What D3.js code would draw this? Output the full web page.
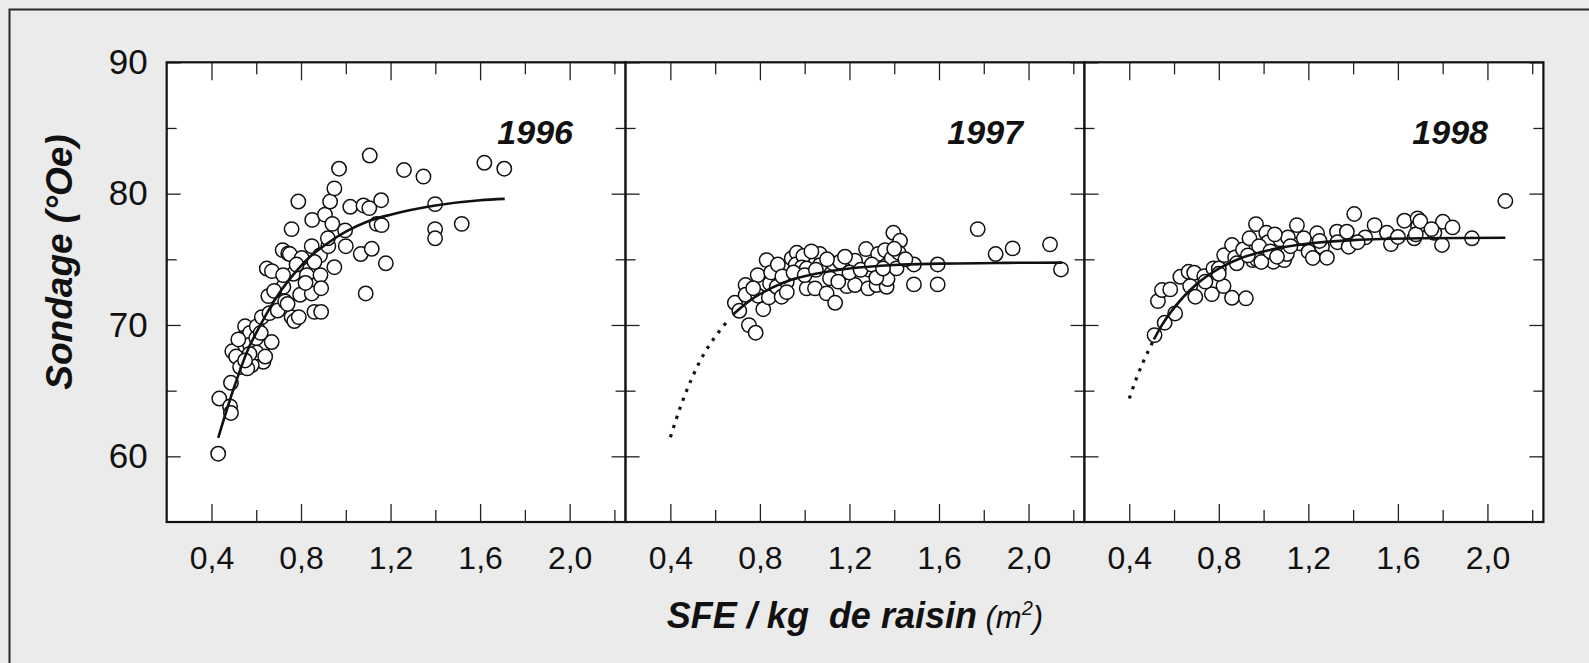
<!DOCTYPE html>
<html>
<head>
<meta charset="utf-8">
<script src="https://cdn.jsdelivr.net/npm/d3@7"></script>
<style>
  html, body { margin: 0; padding: 0; background: #ebebeb; }
  svg { display: block; }
  text { font-family: "Liberation Sans", Arial, Helvetica, sans-serif; fill: #111; }
</style>
</head>
<body>
<svg id="chart" width="1589" height="663"></svg>
<script>
// Sugar content (°Oe) against exposed leaf area per kg of grapes, three vintages.
const years = ["1996", "1997", "1998"];
const xMajorTicks = [0.4, 0.8, 1.2, 1.6, 2.0];
const xMinorTicks = [0.6, 1.0, 1.4, 1.8, 2.2];
const yMajorTicks = [60, 70, 80, 90];
const yMinorTicks = [65, 75, 85];
const xDomain = [0.2, 2.25];
const yDomain = [55, 90];

// observations [SFE m²/kg, °Oe]
const points1996 = [
  [0.43, 60.2], [0.435, 64.4], [0.483, 63.8], [0.487, 63.3], [0.487, 65.6], [0.493, 68.0],
  [0.51, 67.6], [0.528, 66.8], [0.55, 69.9], [0.54, 69.0], [0.572, 69.4], [0.572, 68.5],
  [0.602, 69.9], [0.625, 68.3], [0.632, 67.2], [0.669, 68.7], [0.58, 66.95], [0.56, 66.7],
  [0.602, 67.9], [0.625, 70.6], [0.659, 70.9], [0.654, 72.2], [0.647, 74.3], [0.67, 74.1],
  [0.696, 71.1], [0.721, 72.9], [0.729, 71.8], [0.718, 75.7], [0.743, 75.45], [0.75, 75.4],
  [0.758, 77.3], [0.788, 79.4], [0.758, 70.6], [0.77, 70.3], [0.79, 70.6], [0.766, 73.9],
  [0.796, 72.3], [0.803, 75.1], [0.826, 73.8], [0.848, 76.0], [0.848, 72.4], [0.86, 71.0],
  [0.89, 71.0], [0.885, 75.3], [0.887, 73.8], [0.89, 72.8], [0.85, 78.0], [0.907, 78.4],
  [0.93, 79.4], [0.94, 77.7], [0.922, 76.0], [0.949, 74.4], [0.949, 80.4], [0.97, 81.9],
  [0.997, 77.2], [1.0, 76.0], [1.02, 79.0], [1.067, 75.4], [1.079, 79.1], [1.089, 72.4],
  [1.107, 82.9], [1.105, 78.9], [1.116, 75.8], [1.138, 77.7], [1.16, 77.6], [1.158, 79.5],
  [1.179, 74.7], [1.26, 81.8], [1.347, 81.3], [1.399, 79.2], [1.399, 77.3], [1.399, 76.6],
  [1.518, 77.7], [1.619, 82.35], [1.708, 81.9],
  [0.52, 68.9], [0.57, 67.8], [0.6, 69.0], [0.62, 69.4], [0.68, 72.6], [0.72, 73.8],
  [0.78, 74.6], [0.82, 73.2], [0.74, 71.6], [0.86, 74.8], [0.92, 76.6], [0.55, 67.3],
  [0.64, 67.6]
];
const points1997 = [
  [0.688, 71.69], [0.708, 71.08], [0.736, 73.04], [0.736, 72.3], [0.751, 69.99], [0.781, 69.41],
  [0.79, 73.8], [0.815, 71.2], [0.792, 72.23], [0.83, 74.94], [0.845, 73.17], [0.84, 72.1],
  [0.875, 72.91], [0.897, 72.15], [0.92, 73.29], [0.92, 72.5], [0.942, 75.07], [0.965, 75.5],
  [0.96, 74.6], [0.994, 75.25], [0.987, 74.39], [1.009, 72.79], [1.009, 74.3], [1.046, 72.79],
  [1.068, 75.4], [1.068, 74.56], [1.098, 72.41], [1.113, 73.55], [1.128, 74.69], [1.136, 71.69],
  [1.158, 74.81], [1.188, 72.96], [1.225, 73.04], [1.225, 74.89], [1.274, 75.78], [1.284, 72.79],
  [1.29, 74.2], [1.321, 73.04], [1.328, 75.4], [1.359, 75.7], [1.366, 72.91], [1.37, 73.5],
  [1.389, 75.07], [1.396, 77.02], [1.426, 76.41], [1.42, 75.5], [1.41, 74.31], [1.488, 74.61],
  [1.488, 73.09], [1.594, 74.61], [1.594, 73.09], [1.773, 77.3], [1.853, 75.4], [1.929, 75.83],
  [2.096, 76.14], [2.145, 74.23],
  [0.77, 72.8], [0.85, 74.0], [0.88, 74.6], [0.9, 73.7], [0.95, 74.0], [1.0, 73.8],
  [1.03, 75.6], [1.05, 74.2], [1.1, 75.0], [1.15, 73.3], [1.18, 75.2], [1.2, 74.0],
  [1.25, 74.2], [1.3, 74.6], [1.32, 73.6], [1.35, 74.3], [1.4, 75.8], [1.45, 75.0]
];
const points1998 = [
  [0.513, 69.23], [0.558, 70.17], [0.605, 70.88], [0.528, 71.82], [0.546, 72.66], [0.583, 72.71],
  [0.628, 73.67], [0.665, 74.05], [0.69, 73.98], [0.672, 72.96], [0.695, 72.15], [0.735, 73.72],
  [0.769, 72.35], [0.776, 74.31], [0.8, 74.3], [0.821, 72.96], [0.824, 75.32], [0.859, 72.07],
  [0.921, 72.03], [0.859, 76.09], [0.873, 75.15], [0.908, 75.75], [0.937, 76.6], [0.966, 77.68],
  [0.952, 74.94], [0.97, 75.0], [1.012, 77.02], [1.02, 76.3], [1.044, 74.82], [1.074, 76.52],
  [1.092, 74.94], [1.104, 75.4], [1.109, 76.67], [1.149, 77.6], [1.164, 76.21], [1.201, 75.58],
  [1.22, 75.1], [1.239, 76.98], [1.261, 75.96], [1.283, 75.12], [1.328, 77.1], [1.33, 76.3],
  [1.372, 77.1], [1.38, 75.96], [1.405, 78.45], [1.454, 76.67], [1.496, 77.6], [1.551, 77.02],
  [1.569, 76.16], [1.629, 77.94], [1.673, 76.6], [1.688, 78.12], [1.69, 77.5], [1.68, 76.9],
  [1.763, 77.02], [1.797, 76.09], [1.801, 77.86], [1.844, 77.43], [1.931, 76.6], [2.08, 79.44],
  [0.74, 73.3], [0.8, 73.9], [0.88, 74.7], [0.93, 75.3], [0.98, 76.0], [0.99, 74.8],
  [1.03, 75.6], [1.05, 76.9], [1.06, 75.2], [1.12, 76.0], [1.18, 76.6], [1.25, 76.4],
  [1.42, 76.3], [1.6, 76.7], [1.7, 77.9], [1.75, 77.3]
];

// fitted saturation curves (solid = observed range, dotted = extrapolation)
const fit1996 = [
  [0.43, 61.4], [0.5, 65.2], [0.57, 68.4], [0.6, 69.4], [0.69, 72.1], [0.8, 74.5],
  [0.84, 75.2], [0.9, 76.0], [1.0, 77.1], [1.1, 77.9], [1.2, 78.4], [1.4, 79.1],
  [1.6, 79.5], [1.71, 79.6]
];
const fit1997Dotted = [
  [0.40, 61.45], [0.45, 64.0], [0.5, 66.1], [0.55, 67.8], [0.6, 69.1], [0.66, 70.4]
];
const fit1997 = [
  [0.68, 70.8], [0.75, 71.8], [0.85, 72.8], [0.95, 73.5], [1.05, 73.9], [1.2, 74.3],
  [1.4, 74.57], [1.6, 74.67], [1.9, 74.73], [2.15, 74.75]
];
const fit1998Dotted = [
  [0.40, 64.4], [0.43, 65.85], [0.46, 67.1], [0.49, 68.2], [0.51, 68.9]
];
const fit1998 = [
  [0.51, 68.9], [0.55, 70.1], [0.6, 71.3], [0.7, 73.1], [0.8, 74.3], [0.9, 75.1],
  [1.0, 75.6], [1.2, 76.2], [1.4, 76.46], [1.7, 76.6], [2.08, 76.64]
];

const panels = [
  { year: years[0], points: points1996, solid: fit1996, dotted: null, labelRight: 573 },
  { year: years[1], points: points1997, solid: fit1997, dotted: fit1997Dotted, labelRight: 1023 },
  { year: years[2], points: points1998, solid: fit1998, dotted: fit1998Dotted, labelRight: 1488 }
];

const svg = d3.select("#chart");
const W = 1589, H = 663;
const plotTop = 62.3, plotBottom = 522;
const left0 = 166.7, panelW = 458.9;

svg.append("rect").attr("width", W).attr("height", H).attr("fill", "#ebebeb");
// outer frame
svg.append("rect")
  .attr("x", 9.5).attr("y", 9.5).attr("width", W + 20).attr("height", H + 20)
  .attr("fill", "none").attr("stroke", "#2a2a2a").attr("stroke-width", 2);

const y = d3.scaleLinear().domain(yDomain).range([plotBottom, plotTop]);
const fr = d3.formatLocale({ decimal: ",", thousands: ".", grouping: [3], currency: ["", ""] });
const fmtX = fr.format(".1f");

const line = d3.line().x(d => d[0]).y(d => d[1]).curve(d3.curveMonotoneX);

panels.forEach((p, i) => {
  const x0 = left0 + i * panelW;
  const x = d3.scaleLinear().domain(xDomain).range([x0, x0 + panelW]);
  const g = svg.append("g");

  g.append("rect").attr("x", x0).attr("y", plotTop).attr("width", panelW).attr("height", plotBottom - plotTop)
    .attr("fill", "#fff");

  const tickStyle = sel => {
    sel.select(".domain").remove();
    sel.selectAll(".tick line").attr("stroke", "#222").attr("stroke-width", 1.3);
  };

  // bottom axis: major ticks with labels, minor ticks without
  g.append("g").attr("transform", `translate(0,${plotBottom})`)
    .call(d3.axisBottom(x).tickValues(xMajorTicks).tickSize(-18).tickPadding(24).tickFormat(fmtX))
    .call(tickStyle)
    .call(s => s.selectAll(".tick text").attr("font-size", 32).attr("fill", "#111")
      .attr("font-family", "Liberation Sans, Arial, sans-serif"));
  g.append("g").attr("transform", `translate(0,${plotBottom})`)
    .call(d3.axisBottom(x).tickValues(xMinorTicks).tickSize(-12).tickFormat(""))
    .call(tickStyle);
  // top axis
  g.append("g").attr("transform", `translate(0,${plotTop})`)
    .call(d3.axisTop(x).tickValues(xMajorTicks).tickSize(-18).tickFormat(""))
    .call(tickStyle);
  g.append("g").attr("transform", `translate(0,${plotTop})`)
    .call(d3.axisTop(x).tickValues(xMinorTicks).tickSize(-12).tickFormat(""))
    .call(tickStyle);
  // left axis
  const leftAxis = d3.axisLeft(y).tickValues(yMajorTicks).tickSize(-14).tickPadding(19);
  if (i > 0) leftAxis.tickFormat("");
  g.append("g").attr("transform", `translate(${x0},0)`)
    .call(leftAxis)
    .call(tickStyle)
    .call(s => s.selectAll(".tick text").attr("font-size", 35).attr("fill", "#111")
      .attr("font-family", "Liberation Sans, Arial, sans-serif"));
  g.append("g").attr("transform", `translate(${x0},0)`)
    .call(d3.axisLeft(y).tickValues(yMinorTicks).tickSize(-10).tickFormat(""))
    .call(tickStyle);
  // right axis
  g.append("g").attr("transform", `translate(${x0 + panelW},0)`)
    .call(d3.axisRight(y).tickValues(yMajorTicks).tickSize(-14).tickFormat(""))
    .call(tickStyle);
  g.append("g").attr("transform", `translate(${x0 + panelW},0)`)
    .call(d3.axisRight(y).tickValues(yMinorTicks).tickSize(-10).tickFormat(""))
    .call(tickStyle);

  // observations
  g.append("g").selectAll("circle").data(p.points).join("circle")
    .attr("cx", d => x(d[0])).attr("cy", d => y(d[1])).attr("r", 7.2)
    .attr("fill", "#fff").attr("stroke", "#111").attr("stroke-width", 1.5);

  // fitted curves
  if (p.dotted) {
    g.append("path").datum(p.dotted.map(d => [x(d[0]), y(d[1])]))
      .attr("d", line).attr("fill", "none").attr("stroke", "#111")
      .attr("stroke-width", 3.2).attr("stroke-dasharray", "3.2 6.4");
  }
  g.append("path").datum(p.solid.map(d => [x(d[0]), y(d[1])]))
    .attr("d", line).attr("fill", "none").attr("stroke", "#111").attr("stroke-width", 2.6);

  // panel border
  g.append("rect").attr("x", x0).attr("y", plotTop).attr("width", panelW).attr("height", plotBottom - plotTop)
    .attr("fill", "none").attr("stroke", "#111").attr("stroke-width", 2.2);

  // vintage label
  g.append("text").attr("x", p.labelRight).attr("y", 144).attr("text-anchor", "end")
    .attr("font-size", 34).attr("font-weight", "bold").attr("font-style", "italic")
    .text(p.year);
});

// axis titles
svg.append("text")
  .attr("transform", "translate(72,262) rotate(-90)")
  .attr("text-anchor", "middle").attr("font-size", 37)
  .attr("font-weight", "bold").attr("font-style", "italic")
  .text("Sondage (°Oe)");

const xt = svg.append("text").attr("x", 855).attr("y", 628).attr("text-anchor", "middle")
  .attr("font-size", 36).attr("font-style", "italic");
xt.append("tspan").attr("font-weight", "bold").text("SFE / kg");
xt.append("tspan").attr("font-weight", "bold").attr("dx", 20).text("de raisin");
xt.append("tspan").attr("font-size", 31).text(" (m");
xt.append("tspan").attr("font-size", 20).attr("dy", -13).text("2");
xt.append("tspan").attr("font-size", 31).attr("dy", 13).text(")");
</script>
</body>
</html>
